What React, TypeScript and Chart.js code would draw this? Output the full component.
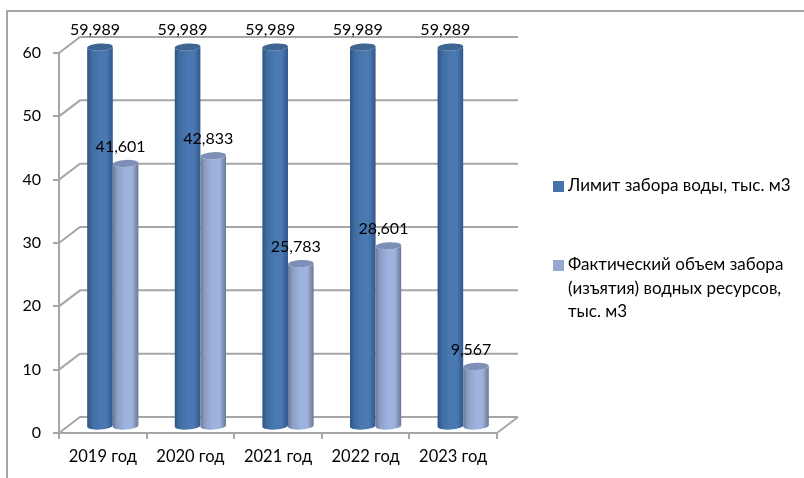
import React, { useEffect, useRef } from "react";
import { Chart, registerables } from "chart.js";

Chart.register(...registerables);

const categories = ["2019 год", "2020 год", "2021 год", "2022 год", "2023 год"];
const limitValues = [59.989, 59.989, 59.989, 59.989, 59.989];
const actualValues = [41.601, 42.833, 25.783, 28.601, 9.567];
const limitLegend = ["Лимит забора воды, тыс. м3"];
const actualLegend = ["Фактический объем забора", "(изъятия) водных ресурсов,", "тыс. м3"];
const yTicks = [0, 10, 20, 30, 40, 50, 60];

const FONT = '"Lato", "Open Sans", sans-serif';
const GRID = "#a6a6a6";
const TEXT = "#000000";
const WALL_DX = 21;
const WALL_DY = -16;
const BAR_DX = 10;
const BAR_DY = -6;

const palettes = [
  { edgeL: "#2f5483", inner: "#3f6ca1", mid: "#4a79b2", edgeR: "#31578a", cap: "#3d6592", swatch: "#4672a8" },
  { edgeL: "#6c7a98", inner: "#8d9fc6", mid: "#9db3de", edgeR: "#6b7893", cap: "#7c8fb5", swatch: "#95a9d0" },
];

// Back wall lines and the depth diagonals on the left side and the floor.
const wallPlugin = {
  id: "wall",
  beforeDatasetsDraw(chart: any) {
    const { ctx, scales } = chart;
    const y = scales.y;
    const x0 = chart.chartArea.left;
    const x1 = chart.chartArea.right;
    ctx.save();
    ctx.strokeStyle = GRID;
    ctx.lineWidth = 2;
    yTicks.forEach((v) => {
      const py = y.getPixelForValue(v);
      ctx.beginPath();
      ctx.moveTo(x0, py);
      ctx.lineTo(x0 + WALL_DX, py + WALL_DY);
      ctx.lineTo(x1 + WALL_DX, py + WALL_DY);
      ctx.stroke();
    });
    const base = y.getPixelForValue(0);
    ctx.beginPath();
    ctx.moveTo(x1, base);
    ctx.lineTo(x1 + WALL_DX, base + WALL_DY);
    ctx.stroke();
    ctx.restore();
  },
};

// Cylinders, value labels and the legend, all taken from the chart's own elements.
const cylinderPlugin = {
  id: "cylinders",
  afterDatasetsDraw(chart: any) {
    const { ctx } = chart;
    ctx.save();
    chart.data.datasets.forEach((_: any, d: number) => {
      const pal = palettes[d];
      chart.getDatasetMeta(d).data.forEach((bar: any) => {
        const cx = bar.x + BAR_DX;
        const top = bar.y + BAR_DY;
        const bottom = bar.base + BAR_DY;
        const rx = bar.width / 2;
        const ry = 3.6;
        const tilt = -0.05;
        const g = ctx.createLinearGradient(cx - rx, 0, cx + rx, 0);
        g.addColorStop(0, pal.edgeL);
        g.addColorStop(0.18, pal.inner);
        g.addColorStop(0.5, pal.mid);
        g.addColorStop(0.75, pal.mid);
        g.addColorStop(1, pal.edgeR);
        ctx.fillStyle = g;
        ctx.beginPath();
        ctx.ellipse(cx, bottom, rx, ry, tilt, 0, Math.PI);
        ctx.ellipse(cx, top, rx, ry, tilt, Math.PI, 0, true);
        ctx.closePath();
        ctx.fill();
        ctx.fillStyle = pal.cap;
        ctx.beginPath();
        ctx.ellipse(cx, top, rx, ry, tilt, 0, Math.PI * 2);
        ctx.fill();
      });
    });

    ctx.font = `16px ${FONT}`;
    ctx.fillStyle = TEXT;
    ctx.textAlign = "center";
    ctx.textBaseline = "middle";
    chart.data.datasets.forEach((ds: any, d: number) => {
      chart.getDatasetMeta(d).data.forEach((bar: any, i: number) => {
        const label = ds.data[i].toFixed(3).replace(".", ",");
        ctx.fillText(label, bar.x + BAR_DX - 5, bar.y + BAR_DY - 17);
      });
    });

    ctx.font = `17px ${FONT}`;
    ctx.textAlign = "left";
    const swatchX = 553;
    const textX = 568;
    const legendRows = [
      { lines: limitLegend, y: 186 },
      { lines: actualLegend, y: 265 },
    ];
    legendRows.forEach((row, d) => {
      ctx.fillStyle = palettes[d].swatch;
      ctx.fillRect(swatchX, row.y - 5, 11, 11);
      ctx.fillStyle = TEXT;
      row.lines.forEach((line, j) => ctx.fillText(line, textX, row.y + j * 23.5));
    });
    ctx.restore();
  },
};

// Thin frame running along the top and left of the page.
const framePlugin = {
  id: "frame",
  beforeDraw(chart: any) {
    const { ctx, width, height } = chart;
    ctx.save();
    ctx.fillStyle = "#ffffff";
    ctx.fillRect(0, 0, width, height);
    ctx.strokeStyle = GRID;
    ctx.lineWidth = 2;
    ctx.beginPath();
    ctx.moveTo(7, height);
    ctx.lineTo(7, 11);
    ctx.lineTo(width, 11);
    ctx.stroke();
    ctx.restore();
  },
};

export default function App() {
  const ref = useRef<HTMLCanvasElement>(null);
  useEffect(() => {
    document.body.style.margin = "0";
    const chart = new Chart(ref.current!, {
      type: "bar",
      data: {
        labels: categories,
        datasets: [
          {
            label: limitLegend.join(" "),
            data: limitValues,
            backgroundColor: "rgba(0,0,0,0)",
            categoryPercentage: 0.585,
            barPercentage: 1,
          },
          {
            label: actualLegend.join(" "),
            data: actualValues,
            backgroundColor: "rgba(0,0,0,0)",
            categoryPercentage: 0.585,
            barPercentage: 1,
          },
        ],
      },
      options: {
        responsive: false,
        animation: false,
        layout: { padding: { top: 53, right: 307, bottom: 0, left: 0 } },
        plugins: { legend: { display: false }, title: { display: false }, tooltip: { enabled: false } },
        scales: {
          x: {
            afterFit: (s: any) => { s.height = 45; },
            border: { color: GRID, width: 2 },
            grid: { drawOnChartArea: false, color: GRID, lineWidth: 2, tickLength: 6 },
            ticks: { color: TEXT, font: { family: FONT, size: 16.5 }, padding: 8, maxRotation: 0 },
          },
          y: {
            min: 0,
            max: 60,
            afterFit: (s: any) => { s.width = 59; },
            border: { color: GRID, width: 2 },
            grid: { drawOnChartArea: false, color: GRID, lineWidth: 2, tickLength: 6 },
            ticks: { color: TEXT, font: { family: FONT, size: 16 }, stepSize: 10, padding: 12 },
          },
        },
      },
      plugins: [framePlugin, wallPlugin, cylinderPlugin],
    } as any);
    return () => chart.destroy();
  }, []);
  return <canvas ref={ref} width={804} height={478} style={{ display: "block" }} />;
}
